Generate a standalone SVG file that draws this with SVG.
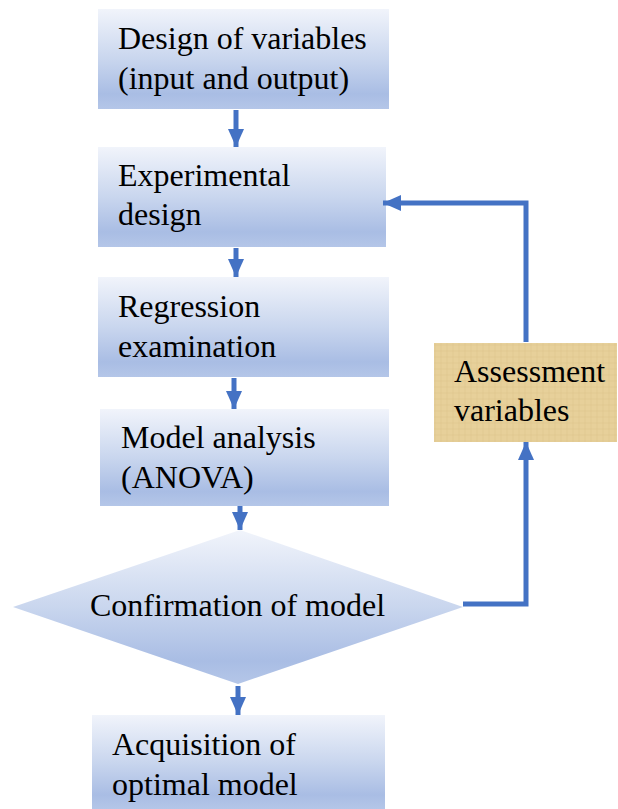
<svg xmlns="http://www.w3.org/2000/svg" width="618" height="809" viewBox="0 0 618 809">
<defs>
<linearGradient id="gb" x1="0" y1="0" x2="0" y2="1">
<stop offset="0" stop-color="#f1f4fb"/>
<stop offset="0.5" stop-color="#c9d6ee"/>
<stop offset="0.85" stop-color="#a9bde4"/>
<stop offset="1" stop-color="#b4c6e8"/>
</linearGradient>
<linearGradient id="gd" x1="0" y1="0" x2="0" y2="1">
<stop offset="0" stop-color="#f1f4fb"/>
<stop offset="0.5" stop-color="#c9d6ee"/>
<stop offset="0.85" stop-color="#a9bde4"/>
<stop offset="1" stop-color="#b4c6e8"/>
</linearGradient>
<pattern id="pap" width="6" height="6" patternUnits="userSpaceOnUse">
<rect width="6" height="6" fill="#e7d09a"/>
<path d="M0 3H6M3 0V6" stroke="#d8bd82" stroke-width="0.6" opacity="0.6"/>
</pattern>
<marker id="ah" markerWidth="18" markerHeight="16" refX="18" refY="8" orient="auto" markerUnits="userSpaceOnUse">
<path d="M0 0L18 8L0 16Z" fill="#4472c4"/>
</marker>
</defs>
<style>
.box{fill:url(#gb);}
.t{font-family:"Liberation Serif","Times New Roman",serif;font-size:32px;fill:#000;}
.c{fill:none;stroke:#4472c4;stroke-width:5;marker-end:url(#ah);}
</style>
<g id="n1"><rect class="box" x="98" y="9" width="291" height="100"/>
<text class="t" x="118" y="49">Design of variables</text><text class="t" x="118" y="89">(input and output)</text></g>
<g id="n2"><rect class="box" x="98" y="147" width="288" height="100"/>
<text class="t" x="118" y="186">Experimental</text><text class="t" x="118" y="225">design</text></g>
<g id="n3"><rect class="box" x="98" y="277" width="291" height="100"/>
<text class="t" x="118" y="317">Regression</text><text class="t" x="118" y="357">examination</text></g>
<g id="n4"><rect class="box" x="100" y="409" width="289" height="97"/>
<text class="t" x="121" y="448">Model analysis</text><text class="t" x="121" y="488">(ANOVA)</text></g>
<g id="n5"><polygon fill="url(#gd)" points="240,530 463,607 238,684 13,607"/>
<text class="t" x="90" y="616">Confirmation of model</text></g>
<g id="n6"><rect class="box" x="92" y="715" width="293" height="94"/>
<text class="t" x="112" y="755">Acquisition of</text><text class="t" x="112" y="795">optimal model</text></g>
<g id="n7"><rect fill="url(#pap)" x="434" y="343" width="183" height="99"/>
<text class="t" x="454" y="382">Assessment</text><text class="t" x="454" y="421">variables</text></g>
<g id="connectors">
<line class="c" x1="236" y1="110" x2="236" y2="147"/>
<line class="c" x1="236" y1="248" x2="236" y2="277"/>
<line class="c" x1="234" y1="378" x2="234" y2="409"/>
<line class="c" x1="240" y1="506" x2="240" y2="530"/>
<line class="c" x1="238" y1="686" x2="238" y2="715"/>
<polyline class="c" points="463,604 526,604 526,442"/>
<polyline class="c" points="526,342 526,203 383,203"/>
</g>
</svg>
